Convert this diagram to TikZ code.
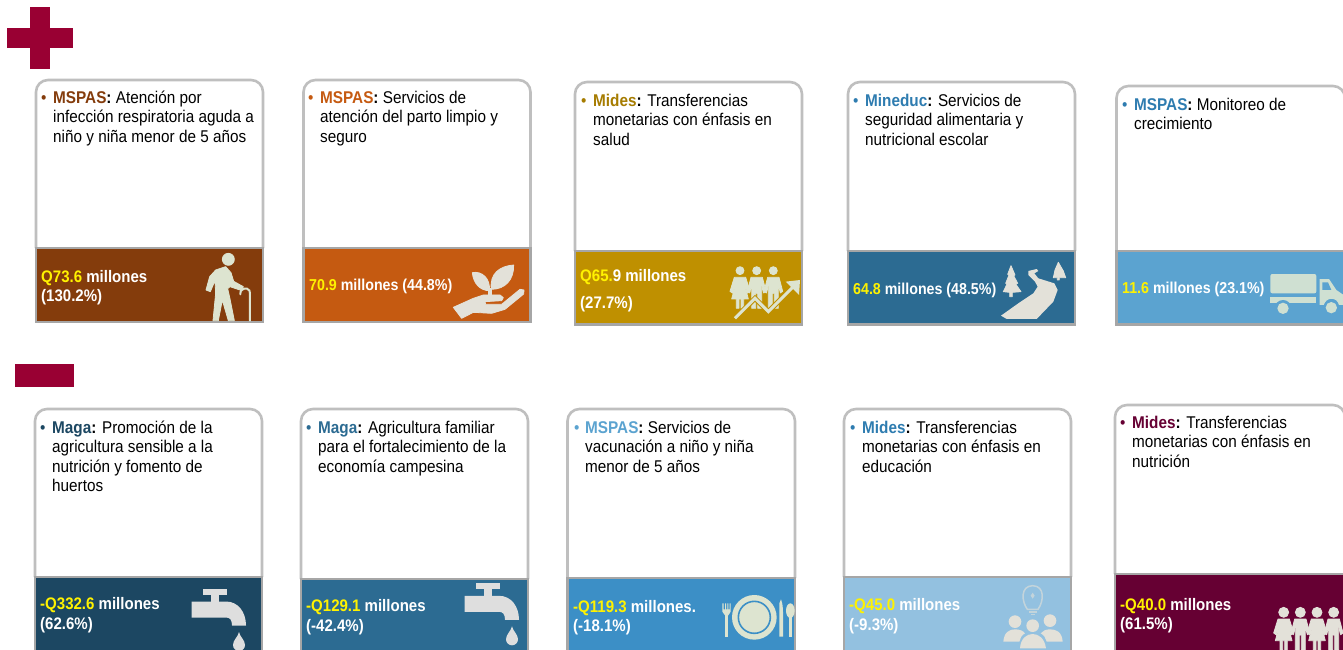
\documentclass[tikz,border=0pt]{standalone}
\usepackage{fontspec}
\setmainfont[FakeStretch=0.9]{Liberation Sans}
\definecolor{cbrown}{HTML}{843C0C}
\definecolor{corange}{HTML}{C55A11}
\definecolor{cgold}{HTML}{BF9000}
\definecolor{cteal}{HTML}{2C6B92}
\definecolor{csky}{HTML}{5BA3D0}
\definecolor{cnavy}{HTML}{1C4762}
\definecolor{cmid}{HTML}{3C8FC6}
\definecolor{cpale}{HTML}{93C1E0}
\definecolor{cmaroon}{HTML}{660033}
\definecolor{ccross}{HTML}{990033}
\definecolor{cardline}{HTML}{BFBFBF}
\definecolor{bandline}{HTML}{A6A6A6}
\definecolor{icona}{HTML}{DDE4D0}
\definecolor{iconb}{HTML}{E3E1D9}
\definecolor{iconc}{HTML}{CFE0D2}
\definecolor{icond}{HTML}{DEDEDE}
\definecolor{brandblue}{HTML}{2E7CB0}
\definecolor{brandgold}{HTML}{A67C00}
\tikzset{
  shellline/.style={draw=cardline,line width=2.6pt,fill=white,rounded corners=12pt},
  bandbox/.style={draw=bandline,line width=2.6pt},
  bodytxt/.style={anchor=north west,inner sep=0pt,align=left,font=\fontsize{17}{19.5}\selectfont,text=black},
  bandtxt/.style={anchor=north west,inner sep=0pt,align=left,font=\fontsize{16.7}{19.5}\selectfont\bfseries,text=white},
  bandsmall/.style={font=\fontsize{15.8}{19.5}\selectfont\bfseries},
  zoomed/.style={scale=0.3333},
  blob/.style={fill,draw,line width=.8pt,line join=round},
}
% name x1 x2 top split bottom colour
\newcommand\cardshape[7]{%
  \path[shellline] (#2,#5) -- (#2,#4) -- (#3,#4) -- (#3,#5);
  \path[bandbox,fill=#7] (#2,#5) rectangle (#3,#6);
}
% name bulletx textx baseline colour brand rest
\newcommand\cardtext[7]{%
  \node[bodytxt,text=#5] (#1b) at (#2,#4-14.65) {\strut•};
  \node[bodytxt] (#1t) at (#3,#4-14.65) {\strut\textbf{\textcolor{#5}{#6}:} #7};
}
% [style] name x baseline text
\newcommand\bandtext[5][]{%
  \node[bandtxt,#1] (#2v) at (#3,#4-15.15) {\strut #5};
}
\newcommand\yy[1]{\textcolor{yellow}{#1}}
\newcommand\womanat[3]{% cx cy(head) radius
  \begin{scope}[shift={(#1,#2)}]
  \path[blob] (0,0) circle[radius=#3];
  \path[blob] (-17,20) -- (17,20) -- (30,62) -- (23,67) -- (13,40) -- (25,85) -- (11,85) -- (11,113) -- (3,113) -- (3,85) -- (-3,85) -- (-3,113) -- (-11,113) -- (-11,85) -- (-25,85) -- (-13,40) -- (-23,67) -- (-30,62) -- cycle;
  \end{scope}
}
\newcommand\manat[3]{%
  \begin{scope}[shift={(#1,#2)}]
  \path[blob] (0,0) circle[radius=#3];
  \path[blob] (-17,20) -- (17,20) -- (28,62) -- (21,67) -- (15,42) -- (15,113) -- (3,113) -- (3,68) -- (-3,68) -- (-3,113) -- (-15,113) -- (-15,42) -- (-21,67) -- (-28,62) -- cycle;
  \end{scope}
}
\newcommand\tapicon[2]{%
  \begin{scope}[shift={(#1,#2)},icond]
  \fill (202.5,589) rectangle (227,594.5);
  \fill (211,594) rectangle (219,603);
  \fill (191.5,601.5) -- (226,601.5) .. controls (238,601.5) and (246,612) .. (246,625.5) -- (232,625.5) .. controls (232,620) and (230,617.5) .. (226,617.5) -- (191.5,617.5) -- cycle;
  \fill (239,632) .. controls (240,637) and (245,640) .. (245,645) arc[start angle=0,end angle=180,radius=6] .. controls (233,640) and (238,637) .. (239,632) -- cycle;
  \end{scope}
}
\begin{document}
\begin{tikzpicture}[x=1pt,y=-1pt]
\useasboundingbox (0,0) rectangle (1343,650);
\clip (0,0) rectangle (1343,650);
\fill[white] (0,0) rectangle (1343,650);
% marks
\fill[ccross] (6.5,28) rectangle (72.8,48);
\fill[ccross] (29.7,6.7) rectangle (49.7,69.3);
\fill[ccross] (15,364) rectangle (74,387);
% cards
\cardshape{a}{36}{263}{80}{248}{322}{cbrown}
\cardshape{b}{303.5}{530.5}{80}{248}{322}{corange}
\cardshape{c}{575}{802}{82}{251}{324.5}{cgold}
\cardshape{d}{848}{1075}{82}{251}{324.5}{cteal}
\cardshape{e}{1116.5}{1345}{86}{251}{324.5}{csky}
\cardshape{f}{35}{262}{409}{577}{654}{cnavy}
\cardshape{g}{301}{528}{409}{579}{654}{cteal}
\cardshape{h}{567.5}{795}{409}{578}{654}{cmid}
\cardshape{i}{844}{1071}{409}{577}{654}{cpale}
\cardshape{j}{1115}{1345}{405}{574}{654}{cmaroon}
% card texts
\cardtext{a}{41}{53}{104}{cbrown}{MSPAS}{Atención por\\infección respiratoria aguda a\\niño y niña menor de 5 años}
\cardtext{b}{308}{320}{104}{corange}{MSPAS}{Servicios de\\atención del parto limpio y\\seguro}
\cardtext{c}{581}{593}{107}{brandgold}{Mides}{Transferencias\\monetarias con énfasis en\\salud}
\cardtext{d}{853}{865}{107}{brandblue}{Mineduc}{Servicios de\\seguridad alimentaria y\\nutricional escolar}
\cardtext{e}{1122}{1134}{111}{brandblue}{MSPAS}{Monitoreo de\\crecimiento}
\cardtext{f}{40}{52}{434}{cnavy}{Maga}{Promoción de la\\agricultura sensible a la\\nutrición y fomento de\\huertos}
\cardtext{g}{306}{318}{434}{cteal}{Maga}{Agricultura familiar\\para el fortalecimiento de la\\economía campesina}
\cardtext{h}{574}{585}{434}{csky}{MSPAS}{Servicios de\\vacunación a niño y niña\\menor de 5 años}
\cardtext{i}{850}{862}{434}{brandblue}{Mides}{Transferencias\\monetarias con énfasis en\\educación}
\cardtext{j}{1120}{1132}{429}{cmaroon}{Mides}{Transferencias\\monetarias con énfasis en\\nutrición}
% band texts
\bandtext{a}{41}{283.5}{\yy{Q73.6} millones\\(130.2\%)}
\bandtext[bandsmall]{b}{309}{292}{\yy{70.9} millones (44.8\%)}
\bandtext{c}{580}{282.5}{\yy{Q65.}9 millones\\[7.5pt](27.7\%)}
\bandtext[bandsmall]{d}{853}{295.5}{\yy{64.8} millones (48.5\%)}
\bandtext[bandsmall]{e}{1122}{294.5}{\yy{11.6} millones (23.1\%)}
\bandtext{f}{40}{611}{\yy{-Q332.6} millones\\(62.6\%)}
\bandtext{g}{306}{613}{\yy{-Q129.1} millones\\(-42.4\%)}
\bandtext{h}{573}{613.5}{\yy{-Q119.3} millones.\\(-18.1\%)}
\bandtext{i}{849}{612}{\yy{-Q45.0} millones\\(-9.3\%)}
\bandtext{j}{1120}{611.5}{\yy{-Q40.0} millones\\(61.5\%)}
% elderly man
\begin{scope}[shift={(195,250)},zoomed,icona]
  \path[blob] (100,28) circle[radius=18];
  \path[blob] (62,60) -- (92,50) -- (108,68) -- (116,94) -- (145,110) -- (141,122) -- (105,110) -- (98,116) -- (104,142) -- (118,212) -- (100,212) -- (82,150) -- (70,212) -- (54,212) -- (62,130) -- (60,92) -- (46,125) -- (33,120) -- (44,80) -- cycle;
  \draw[line width=2pt,line cap=round] (136,133) .. controls (134,120) and (146,114) .. (156,116) .. controls (163,118) and (165,124) .. (165,130) -- (165,212);
\end{scope}
% plant in hand
\begin{scope}[shift={(450,250)},zoomed,iconb]
  \path[blob] (67,68) .. controls (95,62) and (122,85) .. (118,122) .. controls (90,122) and (70,100) .. (67,68) -- cycle;
  \path[blob] (191,45) .. controls (150,48) and (118,70) .. (124,118) .. controls (165,118) and (192,90) .. (191,45) -- cycle;
  \fill (115,115) rectangle (125,136);
  \path[blob] (10,172) -- (70,145) -- (100,135) -- (150,135) -- (160,143) -- (155,152) -- (105,155) -- (107,163) -- (155,163) -- (210,118) -- (222,120) -- (221,132) -- (165,178) -- (125,190) -- (70,187) -- (35,205) -- cycle;
\end{scope}
% people and arrow
\begin{scope}[shift={(725,255)},zoomed,icona]
  \womanat{45}{47}{12}
  \manat{95}{47}{12}
  \manat{145}{47}{12}
  \draw[cgold,line width=5pt,line join=miter] (30,190) -- (90,130) -- (130,170) -- (205,95);
  \draw[line width=3pt,line join=miter] (30,190) -- (90,130) -- (130,170) -- (205,95);
  \fill (182,80) -- (225,75) -- (222,120) -- cycle;
\end{scope}
% road and trees
\begin{scope}[shift={(995,255)},zoomed,iconb]
  \path[blob] (48,32) -- (60,60) -- (56,62) -- (68,85) -- (62,87) -- (78,110) -- (52,112) -- (52,125) -- (44,125) -- (44,112) -- (25,110) -- (36,87) -- (32,85) -- (42,60) -- (38,58) -- cycle;
  \path[blob] (190,22) -- (205,48) -- (212,68) -- (193,68) -- (193,75) -- (187,75) -- (187,68) -- (175,68) -- (180,45) -- cycle;
  \fill (100,48) -- (125,42) -- (130,48) -- (118,55) -- (130,70) -- (178,85) -- (188,105) -- (175,140) -- (125,192) -- (35,192) -- (18,182) -- (70,145) -- (115,115) -- (128,95) -- (120,80) -- (100,60) -- cycle;
\end{scope}
% truck
\begin{scope}[shift={(1263,260)},zoomed,iconc]
  \fill[rounded corners=2pt] (22,42) rectangle (160,100);
  \fill (22,110) rectangle (160,130);
  \fill[csky] (60,145) circle[radius=25];
  \fill (60,145) circle[radius=17];
  \fill (170,57) -- (198,57) -- (220,90) -- (242,105) -- (242,135) -- (228,135) .. controls (222,110) and (190,110) .. (182,135) -- (170,135) -- cycle;
  \fill[csky] (178,67) -- (195,67) -- (205,90) -- (178,90) -- cycle;
  \fill (205,143) circle[radius=17];
\end{scope}
% taps
\tapicon{0}{0}
\tapicon{273}{-5.7}
% plate
\begin{scope}[shift={(715,590)},zoomed,icona]
  \fill (118,82) circle[radius=67];
  \draw[cmid,line width=1.6pt] (118,82) circle[radius=48];
  \fill (30,70) rectangle (40,140);
  \fill (22,40) -- (26,40) -- (26,58) -- (30,58) -- (30,40) -- (33,40) -- (33,58) -- (37,58) -- (37,40) -- (40,40) -- (40,58) -- (44,58) -- (44,40) -- (47,40) -- (47,65) -- (40,76) -- (30,76) -- (22,65) -- cycle;
  \fill (198,28) .. controls (204,40) and (205,70) .. (204,88) -- (204,140) -- (193,140) -- (193,40) -- cycle;
  \fill (226,62) ellipse[x radius=13,y radius=22];
  \fill (221,80) rectangle (231,140);
\end{scope}
% bulb and group
\begin{scope}[shift={(990,580)},zoomed,iconb]
  \draw[line width=1.5pt,opacity=.6] (112,88) .. controls (95,65) and (90,18) .. (128,17) .. controls (166,18) and (161,65) .. (144,88) -- cycle;
  \fill[opacity=.6] (116,92) rectangle (140,100);
  \fill[opacity=.6] (122,101) rectangle (134,106);
  \fill[opacity=.6] (128,38) -- (134,47) -- (128,56) -- (122,47) -- cycle;
  \fill (75,125) circle[radius=19];
  \fill (180,122) circle[radius=19];
  \fill (40,185) .. controls (42,155) and (60,148) .. (75,148) .. controls (88,148) and (100,152) .. (105,160) .. controls (95,165) and (90,175) .. (88,185) -- cycle;
  \fill (218,185) .. controls (216,155) and (198,148) .. (180,148) .. controls (168,148) and (158,152) .. (152,160) .. controls (162,165) and (168,175) .. (170,185) -- cycle;
  \fill (128,137) circle[radius=19];
  \fill (90,205) .. controls (92,175) and (110,162) .. (128,162) .. controls (146,162) and (164,175) .. (168,205) -- cycle;
\end{scope}
% four figures
\begin{scope}[shift={(1263,590)},zoomed,iconb]
  \womanat{62}{67}{15}
  \manat{112}{67}{15}
  \womanat{162}{67}{15}
  \manat{212}{67}{15}
\end{scope}
\end{tikzpicture}
\end{document}
